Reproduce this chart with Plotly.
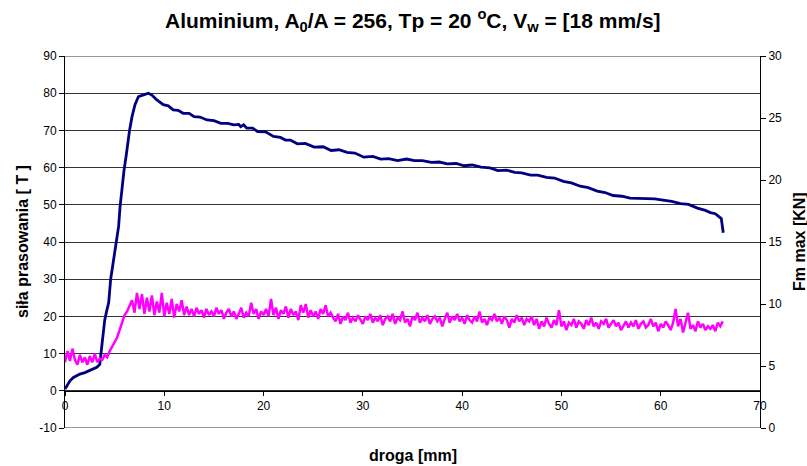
import plotly.graph_objects as go

# ---- data ----
# navy curve: siła prasowania [T] vs droga [mm]
navy_x = [0, 0.5, 0.85, 1.2, 1.5, 2.0, 2.5, 2.9, 3.2, 3.5, 3.7, 3.85, 4.0, 4.2, 4.4, 4.6, 4.8, 5.0, 5.15,
          5.4, 5.55, 5.7, 5.95, 6.15, 6.3, 6.5, 6.75, 7.05, 7.4, 7.9, 8.4, 8.75, 9.25, 9.9, 10.4,
          10.9, 11.4, 11.9, 12.5, 13.0, 13.6, 14.3, 15.0, 15.7, 16.4, 17.0, 17.5, 17.7, 18.0, 18.3,
          18.9, 19.4, 20.2, 21.0, 21.7, 22.2, 22.7, 23.4, 24.2, 25.1, 26.0, 26.8, 27.6, 28.4, 29.2,
          30.1, 31.0, 31.8, 32.6, 33.5, 34.4, 35.2, 36.0, 36.9, 37.7, 38.5, 39.4, 40.2, 41.0, 41.9,
          42.8, 43.6, 44.5, 45.3, 46.0, 46.9, 47.6, 48.5, 49.3, 50.2, 51.0, 51.9, 52.7, 53.6, 54.4,
          55.2, 56.1, 56.9, 57.7, 58.6, 59.4, 60.4, 61.1, 62.0, 62.8, 63.7, 64.5, 65.0, 65.5, 66.1, 66.3]
navy_y = [0.5, 2.7, 3.6, 4.1, 4.5, 4.9, 5.4, 5.9, 6.3, 7.1, 12.0, 15.5, 19.0, 21.5, 23.7, 30.0, 33.5, 36.0, 38.9,
          44.2, 49.6, 54.0, 59.4, 63.0, 66.6, 70.0, 73.7, 76.9, 79.1, 79.5, 80.0, 79.5, 78.2, 76.9, 76.6,
          75.5, 75.4, 74.6, 74.6, 73.7, 73.6, 72.8, 72.6, 71.9, 71.9, 71.5, 71.6, 71.0, 71.5, 70.6,
          70.6, 69.7, 69.6, 68.4, 68.1, 67.4, 67.4, 66.4, 66.5, 65.5, 65.6, 64.6, 64.8, 64.1, 63.9,
          62.8, 63.0, 62.3, 62.4, 61.9, 62.3, 61.9, 61.9, 61.4, 61.5, 61.0, 61.1, 60.5, 60.7, 60.1,
          59.9, 59.2, 59.3, 58.7, 58.6, 58.0, 58.0, 57.4, 57.2, 56.3, 55.9, 55.0, 54.6, 53.7, 53.3,
          52.5, 52.3, 51.8, 51.8, 51.6, 51.6, 51.2, 50.9, 50.3, 50.1, 49.1, 48.5, 47.9, 47.6, 46.3, 42.5]

# magenta curve: Fm max [KN], sampled every 0.25 mm from 0
magenta_step_mm = 0.25
magenta_kn = [
    5.3, 6.2, 5.4, 6.4, 5.5, 5.1, 5.9, 5.3, 5.7, 5.1, 5.8, 5.3, 6.0, 5.3, 5.6,
    5.5, 5.9, 5.7, 6.2, 6.6, 6.9, 7.3, 7.9, 8.5, 9.1, 9.4, 9.9,
    10.3, 9.3, 10.9, 9.6, 10.8, 9.2, 10.5, 9.4, 10.7, 9.1, 10.2, 9.3, 10.9, 9.0, 10.1, 9.2, 10.4, 8.9,
    10.0, 9.4, 10.3, 9.1,
    9.8, 9.1, 9.6, 9.0, 9.7, 9.2, 9.5, 8.9, 9.6, 9.1, 9.4, 9.0, 9.7, 9.2, 9.5, 8.8,
    9.3, 9.6, 9.0, 9.4, 8.8, 9.2, 9.7, 8.9, 9.3, 9.0, 10.1, 9.2, 9.6, 8.8, 9.4, 9.1,
    9.6, 9.0, 10.4, 9.1, 9.7, 8.8, 9.5, 9.2, 9.8, 8.9, 9.6, 9.1, 9.4, 8.7, 9.9, 9.3,
    10.0, 8.9, 9.5, 9.0, 9.4, 8.8, 9.6, 9.2, 9.9, 9.0, 9.3, 8.9,
    8.6, 9.2, 8.4, 9.0, 8.7, 9.3, 8.5, 8.9,
    8.6, 9.1, 8.8, 8.4, 9.0, 8.7, 9.2, 8.5,
    8.9, 8.6, 9.1, 8.3, 8.8, 9.0, 8.6, 9.2,
    8.4, 8.9, 8.7, 9.4, 8.5, 8.8, 8.2, 9.0,
    8.7, 9.3, 8.5, 8.9, 8.6, 9.1, 8.4, 8.8,
    9.0, 8.6, 8.9, 8.2, 8.8, 9.3, 8.5, 9.0,
    8.7, 9.2, 8.6, 8.9, 8.4, 9.1, 8.7, 8.5,
    9.0, 8.6, 9.4, 8.5, 8.8, 8.3, 8.9, 8.7,
    9.2, 8.6, 8.9, 8.4, 9.0, 8.7, 8.1, 8.8,
    8.5, 9.1, 8.6, 8.9, 8.3, 8.8, 8.6, 9.0,
    8.3, 8.8, 8.0, 8.6, 8.2, 8.9, 8.4, 8.1,
    8.7, 8.3, 9.5, 8.2, 8.6, 7.9, 8.5, 8.3,
    8.8, 8.1, 8.6, 8.4, 8.0, 8.7, 8.3, 8.9,
    8.2, 8.5, 8.0, 8.6, 8.4, 8.8, 8.1, 8.4,
    8.7, 8.2, 8.5, 7.9, 8.3, 8.6, 8.1, 8.5,
    8.2, 8.7, 8.0, 8.4, 8.6, 8.1, 8.3, 8.8,
    8.2, 8.5, 7.8, 8.4, 8.1, 8.6, 8.3, 7.9,
    8.5, 9.6, 8.2, 8.8, 7.7, 8.4, 9.3, 8.0,
    8.3, 7.8, 8.6, 8.1, 8.4, 7.9, 8.2, 8.0,
    8.3, 7.8, 8.5, 8.2, 8.6,
]
magenta_x = [i * magenta_step_mm for i in range(len(magenta_kn))]

left_ticks = [-10, 0, 10, 20, 30, 40, 50, 60, 70, 80, 90]
right_ticks = [0, 5, 10, 15, 20, 25, 30]
x_ticks = [0, 10, 20, 30, 40, 50, 60, 70]

title_text = "Aluminium, A<sub>0</sub>/A = 256, Tp = 20 <sup>o</sup>C, V<sub>w</sub> = [18 mm/s]"
x_title = "droga [mm]"
y_title = "siła prasowania [ T ]"
y2_title = "Fm max [KN]"

FONT = "Liberation Sans, Arial, sans-serif"

fig = go.Figure()
fig.add_trace(go.Scatter(x=magenta_x, y=magenta_kn, mode="lines", yaxis="y2",
                         line=dict(color="#FF00FF", width=2.5), showlegend=False, hoverinfo="skip"))
fig.add_trace(go.Scatter(x=navy_x, y=navy_y, mode="lines", yaxis="y",
                         line=dict(color="#000080", width=2.8), showlegend=False, hoverinfo="skip"))

fig.update_layout(
    width=807, height=466,
    margin=dict(l=65, r=47, t=56, b=38),
    paper_bgcolor="white", plot_bgcolor="white",
    font=dict(family=FONT, size=12, color="black"),
    showlegend=False,
    xaxis=dict(range=[0, 70], tickvals=x_ticks, ticktext=[str(v) for v in x_ticks],
               showgrid=False, zeroline=False, showline=True, linecolor="black", linewidth=1,
               ticks="outside", ticklen=4, tickcolor="black", anchor="free", position=0.1,
               automargin=False, tickfont=dict(size=12, family=FONT)),
    yaxis=dict(range=[-10, 90], tickvals=left_ticks, ticktext=[str(v) for v in left_ticks],
               showgrid=True, gridcolor="#333333", gridwidth=1, zeroline=False,
               showline=True, linecolor="black", linewidth=1,
               ticks="outside", ticklen=5, tickcolor="black", automargin=False,
               tickfont=dict(size=12, family=FONT)),
    yaxis2=dict(range=[0, 30], tickvals=right_ticks, ticktext=[str(v) for v in right_ticks],
                overlaying="y", side="right", anchor="x", showgrid=False, zeroline=False,
                showline=True, linecolor="black", linewidth=1,
                ticks="outside", ticklen=5, tickcolor="black", automargin=False,
                tickfont=dict(size=12, family=FONT)),
)

# top & bottom border lines of the plot area
for yv in (-10, 90):
    fig.add_shape(type="line", xref="paper", x0=0, x1=1, yref="y", y0=yv, y1=yv,
                  line=dict(color="#333333", width=1))

fig.add_annotation(text="<b>" + title_text + "</b>", xref="paper", yref="paper", x=0.5, y=1,
                   yshift=36, showarrow=False, xanchor="center", yanchor="middle",
                   font=dict(size=21, family=FONT))
fig.add_annotation(text="<b>" + x_title + "</b>", xref="paper", yref="paper", x=0.5, y=0,
                   yshift=-27, showarrow=False, xanchor="center", yanchor="middle",
                   font=dict(size=16, family=FONT))
fig.add_annotation(text="<b>" + y_title + "</b>", xref="paper", yref="paper", x=0, y=0.5,
                   xshift=-43, showarrow=False, textangle=-90, xanchor="center", yanchor="middle",
                   font=dict(size=16, family=FONT))
fig.add_annotation(text="<b>" + y2_title + "</b>", xref="paper", yref="paper", x=1, y=0.5,
                   xshift=39, showarrow=False, textangle=-90, xanchor="center", yanchor="middle",
                   font=dict(size=16, family=FONT))

fig.write_html("out.html", config={"displayModeBar": False},
               post_script="document.body.style.margin='0';document.body.style.overflow='hidden';")
